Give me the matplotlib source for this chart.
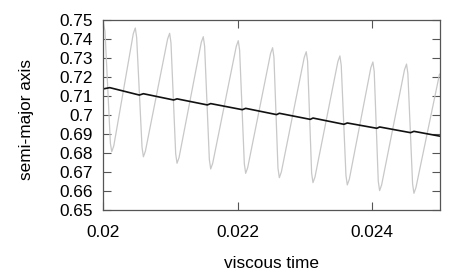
import matplotlib
matplotlib.use("Agg")
import matplotlib.pyplot as plt

plt.rcParams['font.family'] = ['Liberation Sans', 'DejaVu Sans']

# gray curve: oscillating semi-major axis
osc_t = [0.02000, 0.02003, 0.02011, 0.02013, 0.02016,
         0.02045, 0.02048, 0.02050, 0.02058, 0.02060, 0.02063,
         0.02096, 0.02099, 0.02101, 0.02108, 0.02110, 0.02113,
         0.02146, 0.02149, 0.02151, 0.02158, 0.02160, 0.02163,
         0.02198, 0.02201, 0.02203, 0.02210, 0.02212, 0.02215,
         0.02249, 0.02252, 0.02254, 0.02260, 0.02262, 0.02265,
         0.02299, 0.02302, 0.02304, 0.02310, 0.02312, 0.02315,
         0.02349, 0.02352, 0.02354, 0.02361, 0.02363, 0.02366,
         0.02398, 0.02401, 0.02403, 0.02409, 0.02411, 0.02414,
         0.02448, 0.02451, 0.02453, 0.02460, 0.02462, 0.02465,
         0.02500]
osc_a = [0.7495, 0.7440, 0.6850, 0.6807, 0.6837,
         0.7428, 0.7458, 0.7408, 0.6830, 0.6780, 0.6810,
         0.7400, 0.7430, 0.7380, 0.6796, 0.6746, 0.6776,
         0.7382, 0.7412, 0.7362, 0.6766, 0.6716, 0.6746,
         0.7361, 0.7391, 0.7341, 0.6743, 0.6693, 0.6723,
         0.7324, 0.7354, 0.7304, 0.6720, 0.6670, 0.6700,
         0.7303, 0.7333, 0.7283, 0.6694, 0.6644, 0.6674,
         0.7281, 0.7311, 0.7261, 0.6682, 0.6632, 0.6662,
         0.7249, 0.7279, 0.7229, 0.6652, 0.6602, 0.6632,
         0.7238, 0.7268, 0.7218, 0.6638, 0.6588, 0.6618,
         0.7215]

# black curve: mean semi-major axis
mean_t = [0.02000, 0.02010,
          0.02054, 0.02060, 0.02105, 0.02110, 0.02155, 0.02160,
          0.02207, 0.02212, 0.02258, 0.02262, 0.02308, 0.02312,
          0.02358, 0.02363, 0.02407, 0.02411, 0.02457, 0.02462,
          0.02500]
mean_a = [0.7137, 0.7144,
          0.7105, 0.7112, 0.7079, 0.7085, 0.7053, 0.7060,
          0.7028, 0.7035, 0.7002, 0.7009, 0.6977, 0.6984,
          0.6951, 0.6958, 0.6930, 0.6937, 0.6907, 0.6914,
          0.6889]

xticks = [0.02, 0.022, 0.024]
xticklabels = ['0.02', '0.022', '0.024']
yticks = [0.65, 0.66, 0.67, 0.68, 0.69, 0.7, 0.71, 0.72, 0.73, 0.74, 0.75]
yticklabels = ['0.65', '0.66', '0.67', '0.68', '0.69', '0.7',
               '0.71', '0.72', '0.73', '0.74', '0.75']

fig = plt.figure(figsize=(4.63, 2.78), dpi=100)
ax = fig.add_axes([103 / 463, 1 - 210 / 278, 336.5 / 463, 190 / 278])

ax.plot(osc_t, osc_a, color='#c8c8c8', lw=0.9)
ax.plot(mean_t, mean_a, color='#111111', lw=1.2)

ax.set_xlim(0.02, 0.025)
ax.set_ylim(0.65, 0.75)
ax.set_xticks(xticks)
ax.set_xticklabels(xticklabels)
ax.set_yticks(yticks)
ax.set_yticklabels(yticklabels)

ax.tick_params(direction='in', length=5.8, width=0.8, color='#555555',
               top=True, right=True, labelsize=12.4)
ax.tick_params(axis='x', pad=11)
ax.tick_params(axis='y', pad=7)
for s in ax.spines.values():
    s.set_color('#555555')
    s.set_linewidth(0.9)

fig.text(27 / 463, 1 - 119 / 278, 'semi-major axis', rotation=90,
         ha='center', va='center', fontsize=12.4)
fig.text(271.7 / 463, 1 - 263 / 278, 'viscous time',
         ha='center', va='center', fontsize=12.4)

fig.savefig('out.png', dpi=100)
